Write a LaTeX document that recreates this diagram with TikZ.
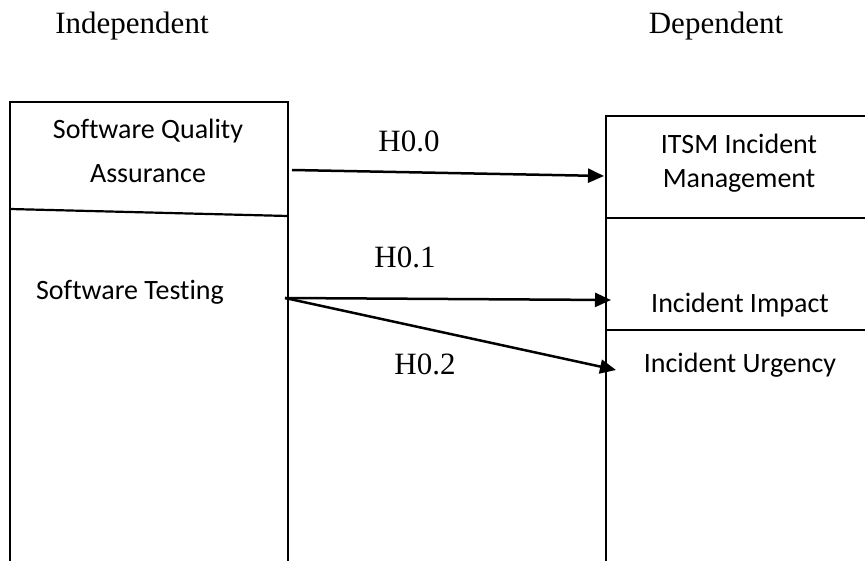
\documentclass[tikz,border=0pt]{standalone}
\usepackage{fontspec}
\newfontfamily\calibrifont[Ligatures=NoCommon]{Carlito}
\newfontfamily\timesfont{Liberation Serif}
\usetikzlibrary{arrows.meta}
\begin{document}
\begin{tikzpicture}[x=1pt,y=-1pt,
  lbl/.style={inner sep=0pt, anchor=base, font=\calibrifont\fontsize{28}{34}\selectfont},
  hyp/.style={inner sep=0pt, anchor=base, font=\timesfont\fontsize{31}{36}\selectfont},
  boxline/.style={line width=2.2pt, line join=miter},
  conn/.style={line width=2.5pt, -{Triangle[length=16pt,width=14pt]}}]
\useasboundingbox (0,0) rectangle (865,561);
% headings
\node[hyp] (indep) at (132,34) {Independent};
\node[hyp] (dep) at (716,34) {Dependent};
% left box
\draw[boxline] (10,561) -- (10,102) -- (288,102) -- (288,561);
\draw[boxline] (10,209) -- (288,216);
\node[lbl] (sqa) at (148,139) {\begin{tabular}[t]{@{}c@{}}Software Quality\\[10pt]Assurance\end{tabular}};
\node[lbl] (st) at (130,300) {Software Testing};
% right box
\draw[boxline] (606,561) -- (606,116) -- (865,116);
\draw[boxline] (606,218) -- (865,218);
\draw[boxline] (606,330) -- (865,330);
\node[lbl] (itsm) at (739,154) {\begin{tabular}[t]{@{}c@{}}ITSM Incident\\Management\end{tabular}};
\node[lbl] (impact) at (740,313) {Incident Impact};
\node[lbl] (urg) at (740,373) {Incident Urgency};
% connector ends
\coordinate (s0) at (292,170);
\coordinate (e0) at (604,176);
\coordinate (s1) at (285,298);
\coordinate (e1) at (611,300);
\coordinate (e2) at (616,370);
\draw[conn] (s0) -- (e0);
\draw[conn] (s1) -- (e1);
\draw[conn] (s1) -- (e2);
% hypothesis labels
\node[hyp] (h0) at (409,152) {H0.0};
\node[hyp] (h1) at (405,268) {H0.1};
\node[hyp] (h2) at (425,374) {H0.2};
\end{tikzpicture}
\end{document}
